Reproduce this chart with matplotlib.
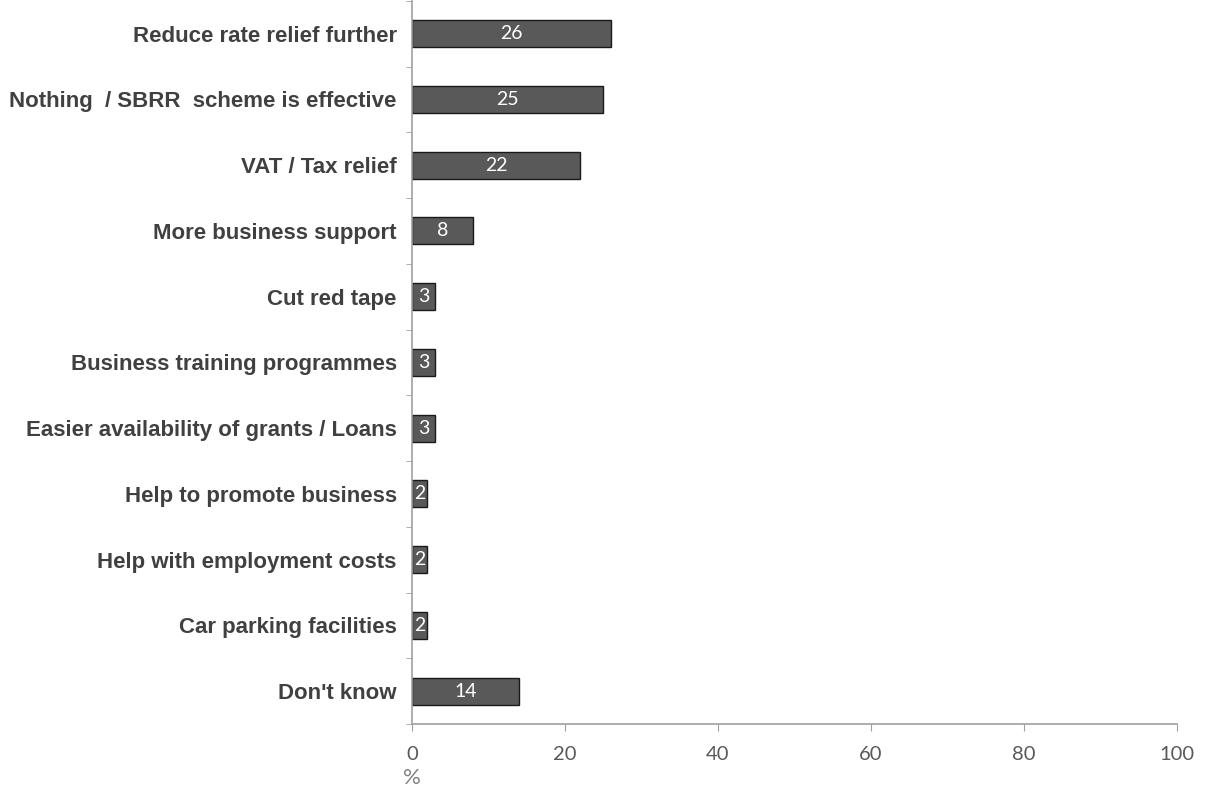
import matplotlib
matplotlib.use("Agg")
import matplotlib.pyplot as plt
import numpy as np

categories = [
    "Reduce rate relief further",
    "Nothing  / SBRR  scheme is effective",
    "VAT / Tax relief",
    "More business support",
    "Cut red tape",
    "Business training programmes",
    "Easier availability of grants / Loans",
    "Help to promote business",
    "Help with employment costs",
    "Car parking facilities",
    "Don't know",
]
values = [26, 25, 22, 8, 3, 3, 3, 2, 2, 2, 14]
xticks = [0, 20, 40, 60, 80, 100]

fig = plt.figure(figsize=(12.05, 7.89), dpi=100)
ax = fig.add_axes([412/1205, 1 - 724/789, 765/1205, 724/789 - 0.001])

n = len(categories)
y = np.arange(n)
ax.barh(y, values, height=0.41, color="#595959", edgecolor="#1a1a1a", linewidth=1.0)
ax.set_ylim(n - 0.5, -0.5)
ax.set_xlim(0, 100)

for yi, v in zip(y, values):
    ax.text(v / 2, yi, str(v), ha="center", va="center", color="white",
            fontsize=14, family=["Lato", "DejaVu Sans"])

ax.set_yticks(y)
ax.set_yticklabels(categories, fontsize=16, fontweight="bold",
                   color="#404040", family=["Liberation Sans", "DejaVu Sans"])
ax.tick_params(axis="y", which="major", length=0, pad=11)
ax.set_yticks(np.arange(n + 1) - 0.5, minor=True)
ax.tick_params(axis="y", which="minor", length=4, color="#a0a0a0", direction="out")

ax.set_xticks(xticks)
ax.set_xticklabels([str(t) for t in xticks], fontsize=14.5, color="#595959",
                   family=["Lato", "DejaVu Sans"])
ax.tick_params(axis="x", length=5, color="#a0a0a0", direction="out", pad=11)

for s in ["top", "right"]:
    ax.spines[s].set_visible(False)
for s in ["left", "bottom"]:
    ax.spines[s].set_color("#a0a0a0")
    ax.spines[s].set_linewidth(1.2)

fig.text(412/1205, 1 - 778/789, "%", ha="center", va="center", fontsize=16,
         color="#808080", family=["Lato", "DejaVu Sans"])

fig.savefig("out.png", dpi=100)
